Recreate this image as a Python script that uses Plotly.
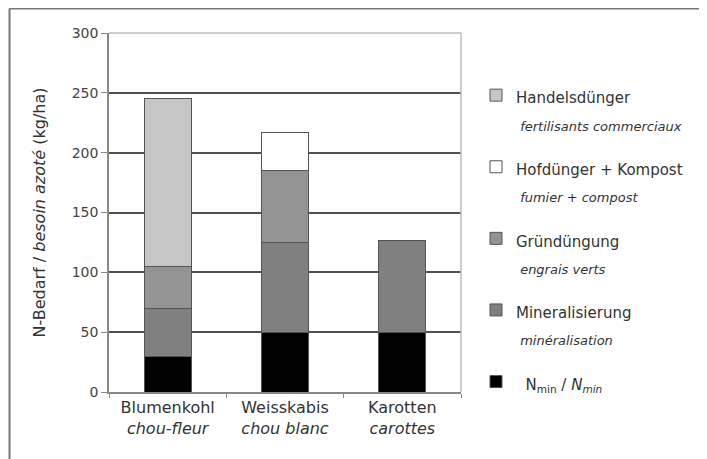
import plotly.graph_objects as go

categories = ["Blumenkohl<br><i>chou-fleur</i>",
              "Weisskabis<br><i>chou blanc</i>",
              "Karotten<br><i>carottes</i>"]

nmin = [30, 50, 50]
mineralisierung = [40, 75, 77]
gruenduengung = [35, 60, 0]
hofduenger = [0, 32, 0]
handelsduenger = [140, 0, 0]

DE = "<span style='font-size:15px'>%s</span>"
FR = "<span style='font-size:13px'><i>&nbsp;%s</i></span>"

series = [
    (DE % "&nbsp;&nbsp;N<sub>min</sub> / <i>N<sub>min</sub></i>", nmin, "#000000"),
    (DE % "Mineralisierung" + "<br>" + FR % "minéralisation", mineralisierung, "#808080"),
    (DE % "Gründüngung" + "<br>" + FR % "engrais verts", gruenduengung, "#939393"),
    (DE % "Hofdünger + Kompost" + "<br>" + FR % "fumier + compost", hofduenger, "#ffffff"),
    (DE % "Handelsdünger" + "<br>" + FR % "fertilisants commerciaux", handelsduenger, "#c6c6c6"),
]

FONT = "DejaVu Sans, Liberation Sans, Arial"

fig = go.Figure()
n = len(series)
for i, (name, vals, col) in enumerate(series):
    fig.add_trace(go.Bar(
        x=categories, y=vals, name=name, legendgroup=f"g{i}",
        legendrank=n - i,
        marker=dict(color=col, line=dict(color="#555555", width=1)),
        width=0.4,
    ))

# page is rendered with the browser's default 8px body margin
OFF = 8
W, H = 707 - OFF, 459 - OFF
L, R, T, B = 109 - OFF, 461 - OFF, 33 - OFF, 392 - OFF
pw, ph = R - L, B - T

def px(x):
    return (x - L) / pw

def py(y):
    return (B - y) / ph

fig.update_layout(
    width=W, height=H,
    margin=dict(l=L, r=W - R, t=T, b=H - B, pad=0, autoexpand=False),
    barmode="stack",
    plot_bgcolor="white", paper_bgcolor="white",
    font=dict(family=FONT, size=15, color="#333333"),
    legend=dict(
        x=px(468), y=py(67), xanchor="left", yanchor="top",
        traceorder="grouped", tracegroupgap=14,
        valign="top", font=dict(family=FONT, size=21, color="#333333"),
        bgcolor="rgba(0,0,0,0)",
    ),
    xaxis=dict(
        showline=True, linecolor="#888888", linewidth=1.5,
        ticks="outside", ticklen=4, tickcolor="#888888",
        tickson="boundaries", showgrid=False, automargin=False,
        tickfont=dict(family=FONT, size=16, color="#333333"),
    ),
    yaxis=dict(
        range=[0, 300], dtick=50, showline=True, linecolor="#888888",
        linewidth=1.5, ticks="outside", ticklen=6, tickcolor="#888888",
        ticklabelstandoff=0, automargin=False,
        showgrid=True, gridcolor="#505050", gridwidth=1.5,
        tickfont=dict(family=FONT, size=14, color="#444444"),
        title=dict(text="N-Bedarf / <i>besoin azoté</i> (kg/ha)",
                   font=dict(family=FONT, size=16, color="#333333"), standoff=22),
        zeroline=False,
    ),
    shapes=[
        dict(type="line", xref="paper", yref="paper",
             x0=px(R), x1=px(R), y0=0, y1=1,
             line=dict(color="#bbbbbb", width=1.5)),
        dict(type="line", xref="paper", yref="paper",
             x0=0, x1=px(R), y0=1, y1=1,
             line=dict(color="#bbbbbb", width=1.5)),
        dict(type="line", xref="paper", yref="paper",
             x0=px(1.5), x1=px(1.5), y0=py(0.5), y1=py(H + 5),
             line=dict(color="#777777", width=2)),
        dict(type="line", xref="paper", yref="paper",
             x0=px(1.5), x1=px(W + 5), y0=py(0.5), y1=py(0.5),
             line=dict(color="#777777", width=2)),
    ],
)

fig.write_html("out.html")
